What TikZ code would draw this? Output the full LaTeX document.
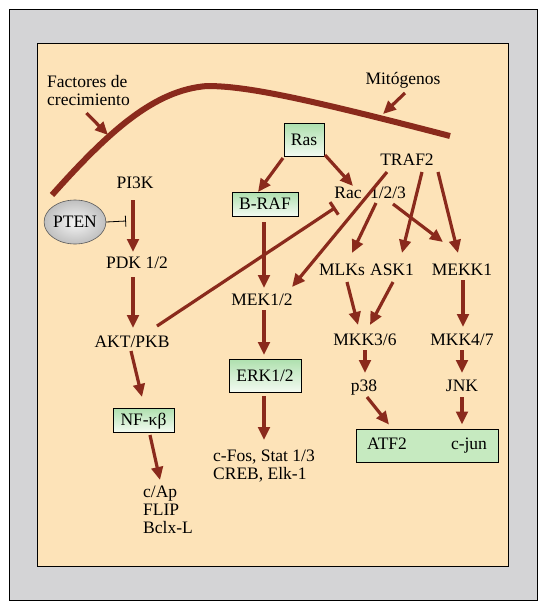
\documentclass[tikz,border=0pt]{standalone}
\usepackage{fontspec}
\setmainfont{Liberation Serif}
\usetikzlibrary{arrows.meta,shapes.geometric,calc}
\definecolor{arr}{HTML}{8A2A1C}
\definecolor{panel}{HTML}{FDE3B8}
\definecolor{outerg}{HTML}{D4D4D6}
\definecolor{boxg}{HTML}{AEE0AE}
\definecolor{boxw}{HTML}{F4FBF2}
\definecolor{atfg}{HTML}{C6EAC0}
\begin{document}
\begin{tikzpicture}[x=1pt,y=-1pt,
  lbl/.style={font=\fontsize{17.5}{18}\selectfont, inner sep=0pt, text height=11.6pt, text depth=0pt},
  multi/.style={font=\fontsize{17.5}{18}\selectfont, inner sep=0pt, align=left, anchor=west},
  gbox/.style={lbl, draw=black, line width=0.9pt, top color=boxg, bottom color=boxw, inner xsep=4pt},
  arrow/.style={draw=arr, line width=3.2pt, -{Triangle[length=13pt,width=11.5pt]}},
  inhib/.style={draw=arr, line width=3.2pt, -{Bar[width=15pt,line width=3.2pt]}},
]
\useasboundingbox (0,0) rectangle (549,606);
\fill[white] (0,0) rectangle (549,606);
\draw[fill=outerg, line width=1pt] (9,9) rectangle (537,600);
\draw[fill=panel, line width=1pt] (37,43) rectangle (508,566);

% membrane curve
\draw[arr, line width=6pt] (52,195) .. controls (110,130) and (155,90) .. (207,86)
  .. controls (245,86) and (300,97) .. (450,136);
\coordinate (gf) at (108,135);
\coordinate (gm) at (383,114);

% labels
\node[multi] (fac) at (47,91) {Factores de\\crecimiento};
\node[lbl] (mit) at (403,79) {Mitógenos};
\node[gbox, minimum width=40pt, minimum height=33pt] (ras) at (304,140) {Ras};
\node[gbox, minimum width=66pt, minimum height=24pt] (braf) at (265,204) {B-RAF};
\node[gbox, minimum width=72pt, minimum height=33pt] (erk) at (265,375.5) {ERK1/2};
\node[gbox, minimum width=61pt, minimum height=24pt] (nf) at (143.5,420) {NF-κβ};
\node[draw=black, line width=0.9pt, fill=atfg, minimum width=142pt, minimum height=33pt] (atfbox) at (427,445.5) {};
\node[lbl] (atf2) at (387,444) {ATF2};
\node[lbl] (cjun) at (469,444) {c-jun};

\node[ellipse, minimum width=56pt, minimum height=44pt, inner sep=0pt, draw=gray!70!black, line width=0.6pt,
      inner color=gray!8, outer color=gray!50, font=\fontsize{17.5}{18}\selectfont] (pten) at (75,222) {PTEN};
\node[lbl] (pi3k) at (135,183) {PI3K};
\node[lbl] (pdk) at (137,263) {PDK 1/2};
\node[lbl] (akt) at (132,342) {AKT/PKB};
\node[multi] (cap) at (143,510) {c/Ap\\FLIP\\Bclx-L};
\node[lbl] (rac) at (348,193) {Rac};
\node[lbl] (r123) at (388,193) {1/2/3};
\node[lbl] (traf) at (407,160) {TRAF2};
\node[lbl] (mek) at (262,300) {MEK1/2};
\node[lbl] (mlks) at (342,270) {MLKs};
\node[lbl] (ask1) at (392,270) {ASK1};
\node[lbl] (mekk1) at (462,270) {MEKK1};
\node[lbl] (mkk36) at (365,340) {MKK3/6};
\node[lbl] (mkk47) at (462,340) {MKK4/7};
\node[lbl] (p38) at (364,386) {p38};
\node[lbl] (jnk) at (462,386) {JNK};
\node[multi] (cfos) at (213,466.5) {c-Fos, Stat 1/3\\CREB, Elk-1};

% connectors
\draw[arrow] ($(fac)+(-2,22)$) -- (gf);
\draw[arrow] ($(mit)+(2,14)$) -- (gm);
\draw[arrow] ($(ras)+(-21,18)$) -- ($(braf)+(-7,-12)$);
\draw[arrow] ($(ras)+(21,15)$) -- ($(rac)+(5,-7)$);
\draw[arrow] ($(traf)+(-20,12)$) -- ($(mek)+(30,-13)$);
\draw[arrow] ($(r123)+(-12,10)$) -- ($(mlks)+(10,-17)$);
\draw[arrow] ($(r123)+(5,11)$) -- ($(mekk1)+(-19,-28)$);
\draw[arrow] ($(traf)+(15,12)$) -- ($(ask1)+(10,-17)$);
\draw[arrow] ($(traf)+(31,12)$) -- ($(mekk1)+(-4,-17)$);
\draw[arrow] ($(pi3k)+(-2,17)$) -- ($(pdk)+(-4,-11)$);
\draw[arrow] ($(pdk)+(-4,14)$) -- ($(akt)+(1,-14)$);
\draw[arrow] ($(akt)+(-1,9)$) -- ($(nf)+(-1.5,-23)$);
\draw[arrow] ($(nf)+(6.5,15)$) -- ($(cap.west)+(17,-30)$);
\draw[arrow] ($(braf)+(-1,18)$) -- ($(mek)+(2,-12)$);
\draw[arrow] ($(mek)+(2,10)$) -- ($(erk)+(-1,-20.5)$);
\draw[arrow] ($(erk)+(-1,20.5)$) -- ($(cfos.west)+(51,-26.5)$);
\draw[inhib] ($(akt)+(25,-16)$) -- ($(rac)+(-12.5,14.5)$);
\draw[black, line width=0.8pt, -{Bar[width=11pt,line width=0.8pt]}] (pten.east) -- ($(pi3k)+(-9,38)$);
\draw[arrow] ($(mlks)+(5,12)$) -- ($(mkk36)+(-7,-15)$);
\draw[arrow] ($(ask1)+(1,12)$) -- ($(mkk36)+(5,-15)$);
\draw[arrow] ($(mekk1)+(1,10)$) -- ($(mkk47)+(1,-13)$);
\draw[arrow] ($(mkk36)+(0,10)$) -- ($(p38)+(1,-13)$);
\draw[arrow] ($(mkk47)+(0,10)$) -- ($(jnk)+(0,-13)$);
\draw[arrow] ($(p38)+(3,11)$) -- ($(atfbox.north)+(-38,-4)$);
\draw[arrow] ($(jnk)+(0,11)$) -- ($(atfbox.north)+(35,-4)$);
\end{tikzpicture}
\end{document}
